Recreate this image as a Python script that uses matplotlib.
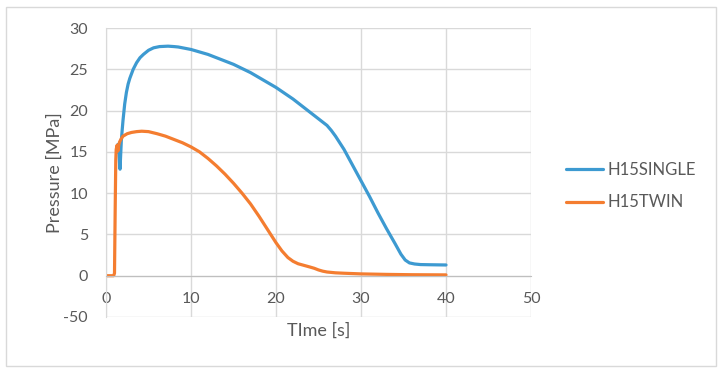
import matplotlib
matplotlib.use("Agg")
import matplotlib.pyplot as plt
from matplotlib.patches import Rectangle
from matplotlib.ticker import FixedLocator, FixedFormatter

plt.rcParams['font.family'] = ['Lato', 'DejaVu Sans']

# H15SINGLE
t_single = [1.3, 1.4, 1.5, 1.6, 1.65, 1.72, 1.8, 1.9, 2.0, 2.2, 2.4, 2.6, 2.8, 3.2,
            3.6, 4.0, 4.4, 5.0, 5.6, 6.3, 7.3, 8.0, 8.5, 10, 11, 12, 13, 14, 15, 16,
            17, 18, 19, 20, 21, 22, 23, 24, 25, 26, 26.5, 27, 27.5, 28, 29, 30, 31,
            32, 33, 34, 34.7, 35.2, 35.7, 36.3, 37, 38, 40]
p_single = [15.0, 15.9, 15.3, 13.5, 12.9, 14.5, 16.3, 17.6, 18.8, 20.8, 22.2, 23.2,
            23.9, 25.0, 25.8, 26.4, 26.8, 27.3, 27.6, 27.75, 27.8, 27.75, 27.7, 27.4,
            27.1, 26.8, 26.4, 26.0, 25.6, 25.1, 24.6, 24.0, 23.4, 22.8, 22.1, 21.4,
            20.6, 19.8, 19.0, 18.2, 17.6, 16.9, 16.1, 15.3, 13.4, 11.5, 9.6, 7.6, 5.7,
            3.9, 2.6, 1.9, 1.55, 1.42, 1.35, 1.33, 1.3]

# H15TWIN
t_twin = [0, 0.9, 1.0, 1.08, 1.15, 1.2, 1.3, 1.4, 1.5, 1.6, 1.8, 2.0, 2.5, 3.0, 3.6,
          4.2, 5.0, 6.0, 7.0, 8.0, 9.0, 10, 11, 12, 13, 14, 15, 16, 17, 18, 19, 20,
          20.7, 21.4, 22.0, 22.6, 23.3, 24, 24.5, 25, 25.5, 26, 27, 28, 30, 33, 36, 40]
p_twin = [0, 0, 0.3, 8, 14, 15.3, 15.8, 15.1, 15.8, 16.2, 16.6, 16.9, 17.2, 17.35,
          17.45, 17.5, 17.45, 17.2, 16.9, 16.5, 16.1, 15.6, 15.0, 14.2, 13.3, 12.3,
          11.2, 10.0, 8.7, 7.2, 5.6, 4.0, 3.0, 2.2, 1.75, 1.45, 1.25, 1.05, 0.9, 0.7,
          0.55, 0.45, 0.35, 0.3, 0.22, 0.16, 0.12, 0.1]

x_ticks = [0, 10, 20, 30, 40, 50]
y_ticks = [-5, 0, 5, 10, 15, 20, 25, 30]
y_tick_labels = ["-50", "0", "5", "10", "15", "20", "25", "30"]

W, H = 722, 372
fig = plt.figure(figsize=(W / 100, H / 100), dpi=100)
fig.patches.append(Rectangle((6 / W, 6 / H), 710 / W, 359 / H, transform=fig.transFigure,
                             fill=False, edgecolor='#D9D9D9', linewidth=1))

ax = fig.add_axes([106 / W, (H - 317) / H, 425 / W, 289 / H])
ax.plot(t_single, p_single, color='#3D9AD1', lw=2.3, label='H15SINGLE',
        solid_joinstyle='round', solid_capstyle='round')
ax.plot(t_twin, p_twin, color='#F47D30', lw=2.3, label='H15TWIN',
        solid_joinstyle='round', solid_capstyle='round')

ax.set_xlim(0, 50)
ax.set_ylim(-5, 30)
ax.xaxis.set_major_locator(FixedLocator(x_ticks))
ax.yaxis.set_major_locator(FixedLocator(y_ticks))
ax.yaxis.set_major_formatter(FixedFormatter(y_tick_labels))
ax.grid(True, color='#D9D9D9', lw=1)
ax.set_axisbelow(True)
for s in ['top', 'right']:
    ax.spines[s].set_visible(False)
ax.spines['left'].set_color('#D9D9D9')
ax.spines['bottom'].set_color('#BFBFBF')
ax.spines['bottom'].set_position(('data', 0))
ax.tick_params(length=0, labelsize=11.5, labelcolor='#595959', pad=13)
ax.tick_params(axis='x', pad=12)

ax.set_xlabel('TIme [s]', fontsize=13, color='#595959')
ax.set_ylabel('Pressure [MPa]', fontsize=13, color='#595959')
ax.xaxis.set_label_coords(0.5, -0.02)
ax.yaxis.set_label_coords(-0.101, 0.5)

leg = ax.legend(loc='center left', bbox_to_anchor=(566 / W, (H - 186) / H),
                bbox_transform=fig.transFigure, frameon=False, fontsize=12,
                handlelength=2.2, handletextpad=0.3, labelspacing=1.0,
                borderpad=0, borderaxespad=0)
for txt in leg.get_texts():
    txt.set_color('#595959')

fig.savefig('out.png', dpi=100)
